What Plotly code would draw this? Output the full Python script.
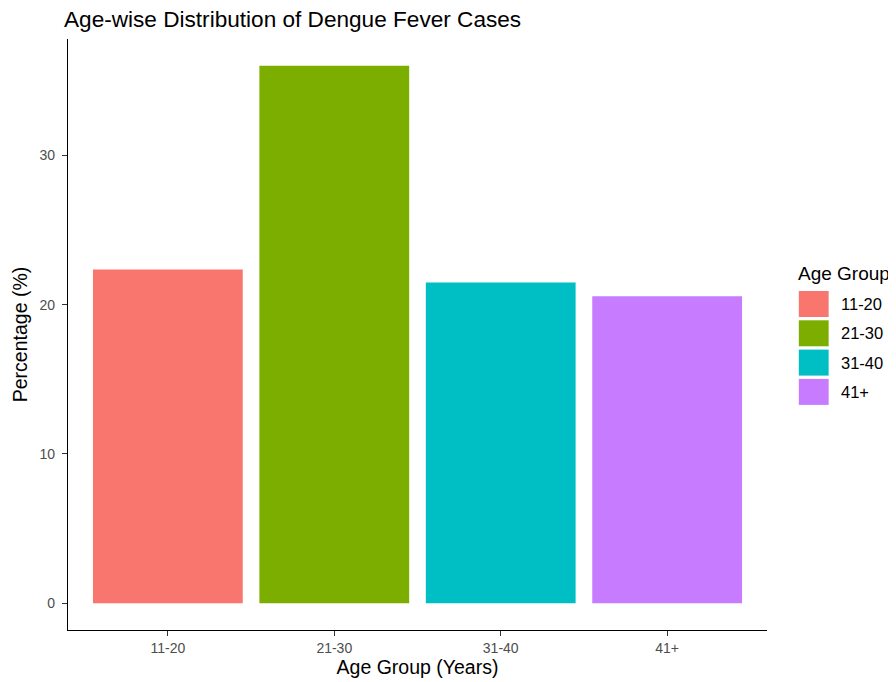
import plotly.graph_objects as go

# Data
age_groups = ["11-20", "21-30", "31-40", "41+"]
percentages = [22.36, 36.0, 21.48, 20.56]
colors = ["#F8766D", "#7CAE00", "#00BFC4", "#C77CFF"]
y_ticks = [0, 10, 20, 30]

W, H = 896, 682
OFF = 8  # page body offset
L, R, T, B = 64, 767, 39, 630  # plot area in page pixels

def px_to_paper_x(px):
    return (px - L) / (R - L)

def px_to_paper_y(py):
    return (B - py) / (B - T)

fig = go.Figure()
fig.add_trace(go.Bar(
    x=age_groups, y=percentages,
    marker=dict(color=colors, line=dict(width=0)),
    showlegend=False, hoverinfo="x+y",
))

font_family = "Liberation Sans, Arial, sans-serif"

# Manual ggplot-like legend built from categories
annotations = [dict(
    text="Age Group", xref="paper", yref="paper",
    x=px_to_paper_x(796), y=px_to_paper_y(273),
    xanchor="left", yanchor="middle", showarrow=False,
    font=dict(family=font_family, size=19, color="black"),
)]
shapes = []
key_top0 = 291
step = 29.3
for i, (g, c) in enumerate(zip(age_groups, colors)):
    top = key_top0 + i * step
    shapes.append(dict(
        type="rect", xref="paper", yref="paper",
        x0=px_to_paper_x(799), x1=px_to_paper_x(829),
        y0=px_to_paper_y(top + 26), y1=px_to_paper_y(top),
        fillcolor=c, line=dict(width=0), layer="above",
    ))
    annotations.append(dict(
        text=g, xref="paper", yref="paper",
        x=px_to_paper_x(839), y=px_to_paper_y(top + 13),
        xanchor="left", yanchor="middle", showarrow=False,
        font=dict(family=font_family, size=16.5, color="black"),
    ))

fig.update_layout(
    width=W, height=H,
    margin=dict(l=L - OFF, r=W - (R - OFF), t=T - OFF, b=H - (B - OFF), pad=0),
    paper_bgcolor="white", plot_bgcolor="white",
    bargap=0.1,
    title=dict(
        text="Age-wise Distribution of Dengue Fever Cases",
        xref="container", yref="container",
        x=(64 - OFF) / W, xanchor="left",
        y=1 - (19 - OFF) / H, yanchor="middle",
        font=dict(family=font_family, size=22.6, color="black"),
    ),
    font=dict(family=font_family),
    xaxis=dict(
        range=[-0.6, 3.6],
        showline=True, linecolor="black", linewidth=1.2,
        ticks="outside", ticklen=5, tickcolor="#333333", tickwidth=1,
        tickfont=dict(size=14, color="#4D4D4D"),
        showgrid=False, zeroline=False,
        title=dict(text="Age Group (Years)", standoff=2,
                   font=dict(size=19.5, color="black")),
    ),
    yaxis=dict(
        range=[-1.8, 37.8],
        tickvals=y_ticks,
        showline=True, linecolor="black", linewidth=1.2,
        ticks="outside", ticklen=5, tickcolor="#333333", tickwidth=1,
        ticklabelstandoff=4,
        tickfont=dict(size=14, color="#4D4D4D"),
        showgrid=False, zeroline=False,
        title=dict(text="Percentage (%)", standoff=6,
                   font=dict(size=19.5, color="black")),
    ),
    annotations=annotations,
    shapes=shapes,
)

fig.write_html("out.html")
